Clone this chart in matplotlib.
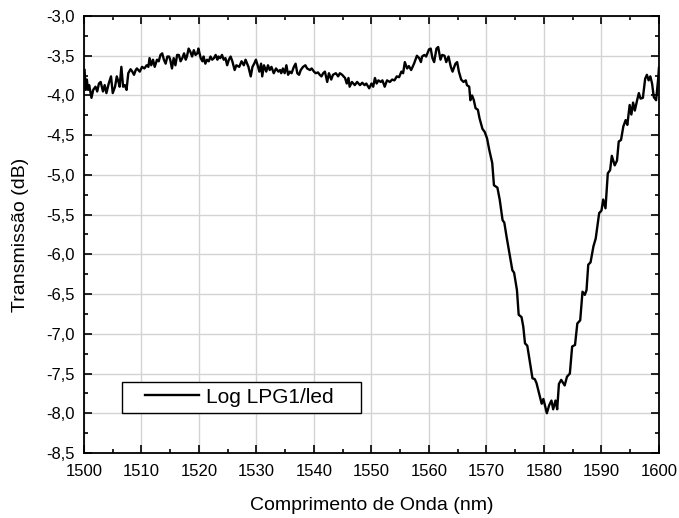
import matplotlib
matplotlib.use("Agg")
import matplotlib.pyplot as plt
from matplotlib.ticker import MultipleLocator, FuncFormatter
from matplotlib.legend_handler import HandlerLine2D

# wavelength (nm) and transmission (dB)
wavelength = [
    1500.1, 1500.3, 1500.5, 1500.7, 1500.9, 1501.3, 1501.6, 1502.0, 1502.3, 1502.6,
    1502.9, 1503.3, 1503.6, 1503.9, 1504.3, 1504.7, 1505.0, 1505.4, 1505.7, 1506.0,
    1506.2, 1506.5, 1506.8, 1507.1, 1507.4, 1507.7, 1508.1, 1508.4, 1508.7, 1509.0,
    1509.2, 1509.7, 1510.1, 1510.5, 1510.9, 1511.2, 1511.4, 1511.7, 1512.0, 1512.3,
    1512.7, 1513.0, 1513.3, 1513.6, 1513.9, 1514.2, 1514.5, 1514.8, 1515.0, 1515.3,
    1515.6, 1515.9, 1516.2, 1516.5, 1516.8, 1517.1, 1517.4, 1517.7, 1517.9, 1518.2,
    1518.5, 1518.8, 1519.1, 1519.4, 1519.7, 1519.9, 1520.3, 1520.6, 1520.8, 1521.1,
    1521.4, 1521.7, 1522.0, 1522.3, 1522.6, 1522.9, 1523.2, 1523.4, 1523.7, 1524.0,
    1524.3, 1524.6, 1524.9, 1525.2, 1525.5, 1525.8, 1526.2, 1526.5, 1527.0, 1527.4,
    1527.8, 1528.1, 1528.6, 1529.0, 1529.3, 1529.6, 1529.9, 1530.2, 1530.5, 1530.8,
    1531.0, 1531.3, 1531.7, 1532.0, 1532.3, 1532.6, 1533.0, 1533.4, 1533.8, 1534.1,
    1534.3, 1534.6, 1534.9, 1535.2, 1535.5, 1535.8, 1536.1, 1536.5, 1536.8, 1537.1,
    1537.4, 1537.7, 1538.1, 1538.5, 1538.8, 1539.3, 1539.6, 1540.0, 1540.3, 1540.7,
    1541.0, 1541.3, 1541.6, 1541.9, 1542.3, 1542.6, 1543.0, 1543.3, 1543.8, 1544.2,
    1544.5, 1544.9, 1545.4, 1545.7, 1546.0, 1546.2, 1546.6, 1547.1, 1547.5, 1548.0,
    1548.4, 1548.8, 1549.1, 1549.6, 1550.0, 1550.3, 1550.6, 1550.9, 1551.2, 1551.6,
    1551.9, 1552.3, 1552.7, 1553.2, 1553.6, 1554.0, 1554.4, 1554.8, 1555.2, 1555.5,
    1555.8, 1556.2, 1556.5, 1556.9, 1557.4, 1557.9, 1558.3, 1558.6, 1558.8, 1559.2,
    1559.5, 1560.0, 1560.3, 1560.6, 1560.9, 1561.3, 1561.6, 1562.0, 1562.3, 1562.7,
    1563.0, 1563.4, 1563.8, 1564.1, 1564.3, 1564.6, 1564.9, 1565.2, 1565.6, 1566.0,
    1566.4, 1566.6, 1567.0, 1567.2, 1567.5, 1567.8, 1568.1, 1568.5, 1568.8, 1569.3,
    1569.7, 1570.1, 1570.5, 1571.0, 1571.3, 1571.9, 1572.3, 1572.8, 1573.1, 1573.5,
    1574.1, 1574.5, 1574.8, 1575.3, 1575.6, 1576.1, 1576.4, 1576.7, 1577.1, 1577.5,
    1578.0, 1578.4, 1578.7, 1579.3, 1579.6, 1579.9, 1580.5, 1580.9, 1581.3, 1581.6,
    1582.0, 1582.3, 1582.6, 1583.0, 1583.6, 1584.0, 1584.5, 1584.9, 1585.4, 1585.8,
    1586.3, 1586.7, 1587.1, 1587.4, 1587.7, 1588.1, 1588.6, 1589.0, 1589.6, 1590.0,
    1590.3, 1590.7, 1591.1, 1591.5, 1591.8, 1592.3, 1592.7, 1593.0, 1593.4, 1593.8,
    1594.2, 1594.5, 1594.9, 1595.2, 1595.5, 1595.8, 1596.2, 1596.5, 1596.8, 1597.2,
    1597.6, 1597.9, 1598.2, 1598.5, 1598.8, 1599.1, 1599.5, 1599.85, 1600.0,
]
transmission = [
    -3.68, -3.93, -3.80, -3.93, -3.87, -4.03, -3.93, -3.89, -3.95, -3.85,
    -3.83, -3.95, -3.87, -3.97, -3.85, -3.76, -3.97, -3.89, -3.76, -3.83,
    -3.89, -3.64, -3.89, -3.87, -3.93, -3.72, -3.67, -3.70, -3.74, -3.68,
    -3.66, -3.70, -3.64, -3.66, -3.62, -3.64, -3.53, -3.62, -3.55, -3.64,
    -3.55, -3.57, -3.49, -3.47, -3.55, -3.60, -3.51, -3.51, -3.55, -3.66,
    -3.53, -3.62, -3.49, -3.49, -3.57, -3.53, -3.47, -3.55, -3.51, -3.41,
    -3.45, -3.51, -3.43, -3.49, -3.47, -3.41, -3.53, -3.57, -3.51, -3.60,
    -3.55, -3.57, -3.51, -3.55, -3.53, -3.49, -3.55, -3.51, -3.53, -3.49,
    -3.55, -3.53, -3.62, -3.55, -3.51, -3.57, -3.68, -3.62, -3.64, -3.57,
    -3.62, -3.55, -3.64, -3.76, -3.64, -3.60, -3.55, -3.62, -3.70, -3.60,
    -3.76, -3.62, -3.70, -3.62, -3.68, -3.64, -3.72, -3.66, -3.70, -3.68,
    -3.72, -3.66, -3.72, -3.62, -3.74, -3.70, -3.72, -3.64, -3.60, -3.72,
    -3.74, -3.68, -3.64, -3.62, -3.66, -3.68, -3.66, -3.70, -3.72, -3.71,
    -3.74, -3.76, -3.72, -3.70, -3.83, -3.72, -3.80, -3.74, -3.72, -3.76,
    -3.72, -3.74, -3.78, -3.85, -3.78, -3.89, -3.83, -3.87, -3.83, -3.87,
    -3.84, -3.87, -3.85, -3.91, -3.85, -3.89, -3.78, -3.85, -3.81, -3.83,
    -3.81, -3.89, -3.81, -3.83, -3.80, -3.81, -3.76, -3.77, -3.70, -3.72,
    -3.58, -3.66, -3.63, -3.68, -3.60, -3.50, -3.53, -3.58, -3.51, -3.49,
    -3.51, -3.42, -3.41, -3.53, -3.58, -3.41, -3.39, -3.55, -3.49, -3.50,
    -3.58, -3.51, -3.64, -3.70, -3.66, -3.60, -3.58, -3.70, -3.80, -3.83,
    -3.81, -3.87, -3.89, -4.06, -4.00, -4.06, -4.16, -4.18, -4.29, -4.42,
    -4.46, -4.54, -4.69, -4.85, -5.13, -5.16, -5.31, -5.57, -5.60, -5.78,
    -6.03, -6.20, -6.23, -6.45, -6.76, -6.79, -6.91, -7.12, -7.15, -7.33,
    -7.56, -7.57, -7.62, -7.79, -7.88, -7.82, -8.00, -7.90, -7.84, -7.95,
    -7.84, -7.95, -7.63, -7.58, -7.65, -7.54, -7.50, -7.16, -7.14, -6.87,
    -6.83, -6.47, -6.51, -6.45, -6.13, -6.10, -5.90, -5.80, -5.48, -5.45,
    -5.31, -5.42, -4.98, -4.94, -4.76, -4.88, -4.82, -4.58, -4.56, -4.39,
    -4.31, -4.37, -4.12, -4.24, -4.09, -4.19, -4.06, -3.97, -4.04, -4.03,
    -3.79, -3.74, -3.81, -3.76, -3.85, -4.02, -4.06, -3.80, -3.65,
]


class PaddedLine(HandlerLine2D):
    # legend line drawn only in the right part of the handle box
    def get_xdata(self, legend, xdescent, ydescent, width, height, fontsize):
        x0 = -xdescent + width * 0.24
        x1 = -xdescent + width
        return [x0, x1], [x0, x1]


plt.rcParams['font.family'] = ['Liberation Sans', 'DejaVu Sans']

fig = plt.figure(figsize=(6.79, 5.18), dpi=100)
ax = fig.add_axes([0.1237, 0.1255, 0.8468, 0.8436])

line, = ax.plot(wavelength, transmission, color='black', linewidth=1.7, label='Log LPG1/led')

ax.set_xlim(1500, 1600)
ax.set_ylim(-8.5, -3.0)
ax.xaxis.set_major_locator(MultipleLocator(10))
ax.xaxis.set_minor_locator(MultipleLocator(5))
ax.yaxis.set_major_locator(MultipleLocator(0.5))
ax.yaxis.set_minor_locator(MultipleLocator(0.25))
ax.yaxis.set_major_formatter(FuncFormatter(lambda v, p: f"{v:.1f}".replace('.', ',')))

ax.grid(True, which='major', color='#d3d3d3', linewidth=1.0)
ax.set_axisbelow(True)

ax.tick_params(which='both', direction='in', top=True, right=True,
               labelsize=12, width=1.2, colors='black')
ax.tick_params(which='major', length=6)
ax.tick_params(which='minor', length=3)
ax.tick_params(axis='x', which='major', pad=8)
ax.tick_params(axis='y', which='major', pad=7)
for s in ax.spines.values():
    s.set_linewidth(1.3)

ax.set_xlabel('Comprimento de Onda (nm)', fontsize=14, labelpad=13)
ax.set_ylabel('Transmissão (dB)', fontsize=14, labelpad=12)

leg = ax.legend(handles=[line], handler_map={line: PaddedLine()},
                loc='lower left', bbox_to_anchor=(0.0656, 0.0915, 0.417, 0.08),
                mode='expand', borderaxespad=0, fancybox=False, framealpha=1,
                edgecolor='black', fontsize=15, handlelength=3.4,
                handletextpad=0.33, borderpad=0.3)
leg.get_frame().set_linewidth(1.0)

fig.savefig('out.png', dpi=100)
